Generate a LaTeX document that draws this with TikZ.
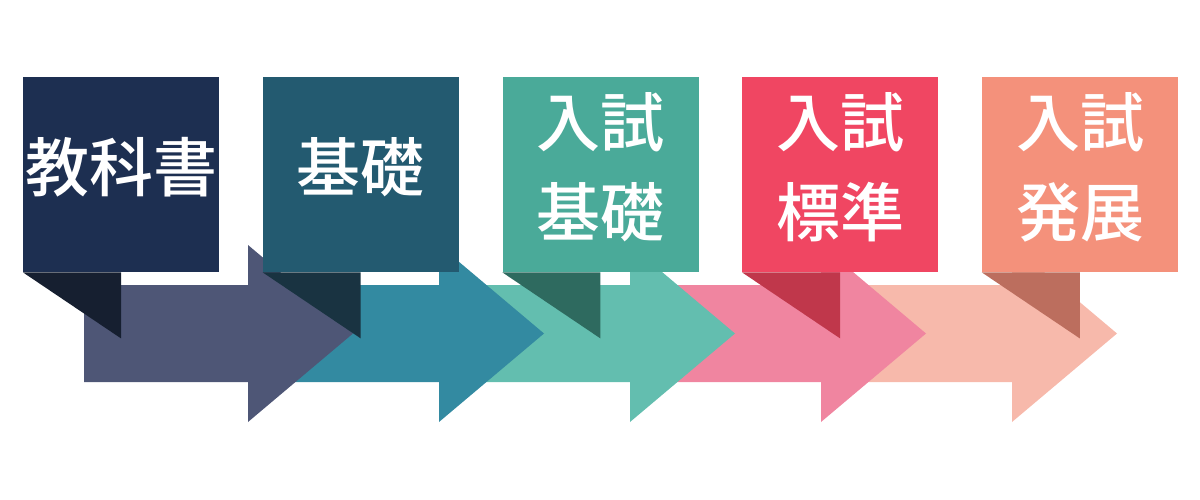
\documentclass[tikz,border=0pt]{standalone}
\usepackage{fontspec}
\newfontfamily\cjk{Noto Sans CJK JP Medium}
\usetikzlibrary{positioning}
\definecolor{boxA}{HTML}{1D2F51}
\definecolor{foldA}{HTML}{161F30}
\definecolor{arrowA}{HTML}{4E5676}
\definecolor{boxB}{HTML}{235A70}
\definecolor{foldB}{HTML}{193341}
\definecolor{arrowB}{HTML}{338AA1}
\definecolor{boxC}{HTML}{4AAA99}
\definecolor{foldC}{HTML}{2E6A5F}
\definecolor{arrowC}{HTML}{63BEAF}
\definecolor{boxD}{HTML}{F04662}
\definecolor{foldD}{HTML}{C0374B}
\definecolor{arrowD}{HTML}{F085A0}
\definecolor{boxE}{HTML}{F4917B}
\definecolor{foldE}{HTML}{BC6E5E}
\definecolor{arrowE}{HTML}{F7B9AB}
\tikzstyle{stage} = [rectangle, minimum width=196pt, minimum height=195pt, inner sep=0pt, anchor=north west]
\tikzstyle{stagetext} = [text=white, align=center, inner sep=0pt, font=\cjk\fontsize{64}{90}\selectfont]
\begin{document}
\begin{tikzpicture}[x=1pt, y=-1pt]
    \useasboundingbox (0,0) rectangle (1200,500);

        % Arrows
        \fill[arrowE] (848,285) -- (1012,285) -- (1012,245) -- (1117,333.5) -- (1012,422) -- (1012,382) -- (848,382) -- cycle;
        \fill[arrowD] (657,285) -- (821,285) -- (821,245) -- (926,333.5) -- (821,422) -- (821,382) -- (657,382) -- cycle;
        \fill[arrowC] (466,285) -- (630,285) -- (630,245) -- (735,333.5) -- (630,422) -- (630,382) -- (466,382) -- cycle;
        \fill[arrowB] (275,285) -- (439,285) -- (439,245) -- (544,333.5) -- (439,422) -- (439,382) -- (275,382) -- cycle;
        \fill[arrowA] (84,285) -- (248,285) -- (248,245) -- (353,333.5) -- (248,422) -- (248,382) -- (84,382) -- cycle;

        % Nodes
        \node (b1) [stage, fill=boxA] at (23,77) {};
        \node (b2) [stage, fill=boxB] at (262.7,77) {};
        \node (b3) [stage, fill=boxC] at (502.4,77) {};
        \node (b4) [stage, fill=boxD] at (742.1,77) {};
        \node (b5) [stage, fill=boxE] at (981.8,77) {};

        % Folds
        \fill[foldA] (b1.south west) -- ([xshift=98pt]b1.south west) -- ([xshift=98pt, yshift=-66pt]b1.south west) -- cycle;
        \fill[foldB] (b2.south west) -- ([xshift=98pt]b2.south west) -- ([xshift=98pt, yshift=-66pt]b2.south west) -- cycle;
        \fill[foldC] (b3.south west) -- ([xshift=98pt]b3.south west) -- ([xshift=98pt, yshift=-66pt]b3.south west) -- cycle;
        \fill[foldD] (b4.south west) -- ([xshift=98pt]b4.south west) -- ([xshift=98pt, yshift=-66pt]b4.south west) -- cycle;
        \fill[foldE] (b5.south west) -- ([xshift=98pt]b5.south west) -- ([xshift=98pt, yshift=-66pt]b5.south west) -- cycle;

        % Texts
        \node (t1) [stagetext] at ([yshift=7.5pt]b1.center) {教科書};
        \node (t2) [stagetext] at ([yshift=7.5pt]b2.center) {基礎};
        \node (t3) [stagetext] at ([yshift=7.5pt]b3.center) {入試\\基礎};
        \node (t4) [stagetext] at ([yshift=7.5pt]b4.center) {入試\\標準};
        \node (t5) [stagetext] at ([yshift=7.5pt]b5.center) {入試\\発展};

    \end{tikzpicture}
\end{document}
